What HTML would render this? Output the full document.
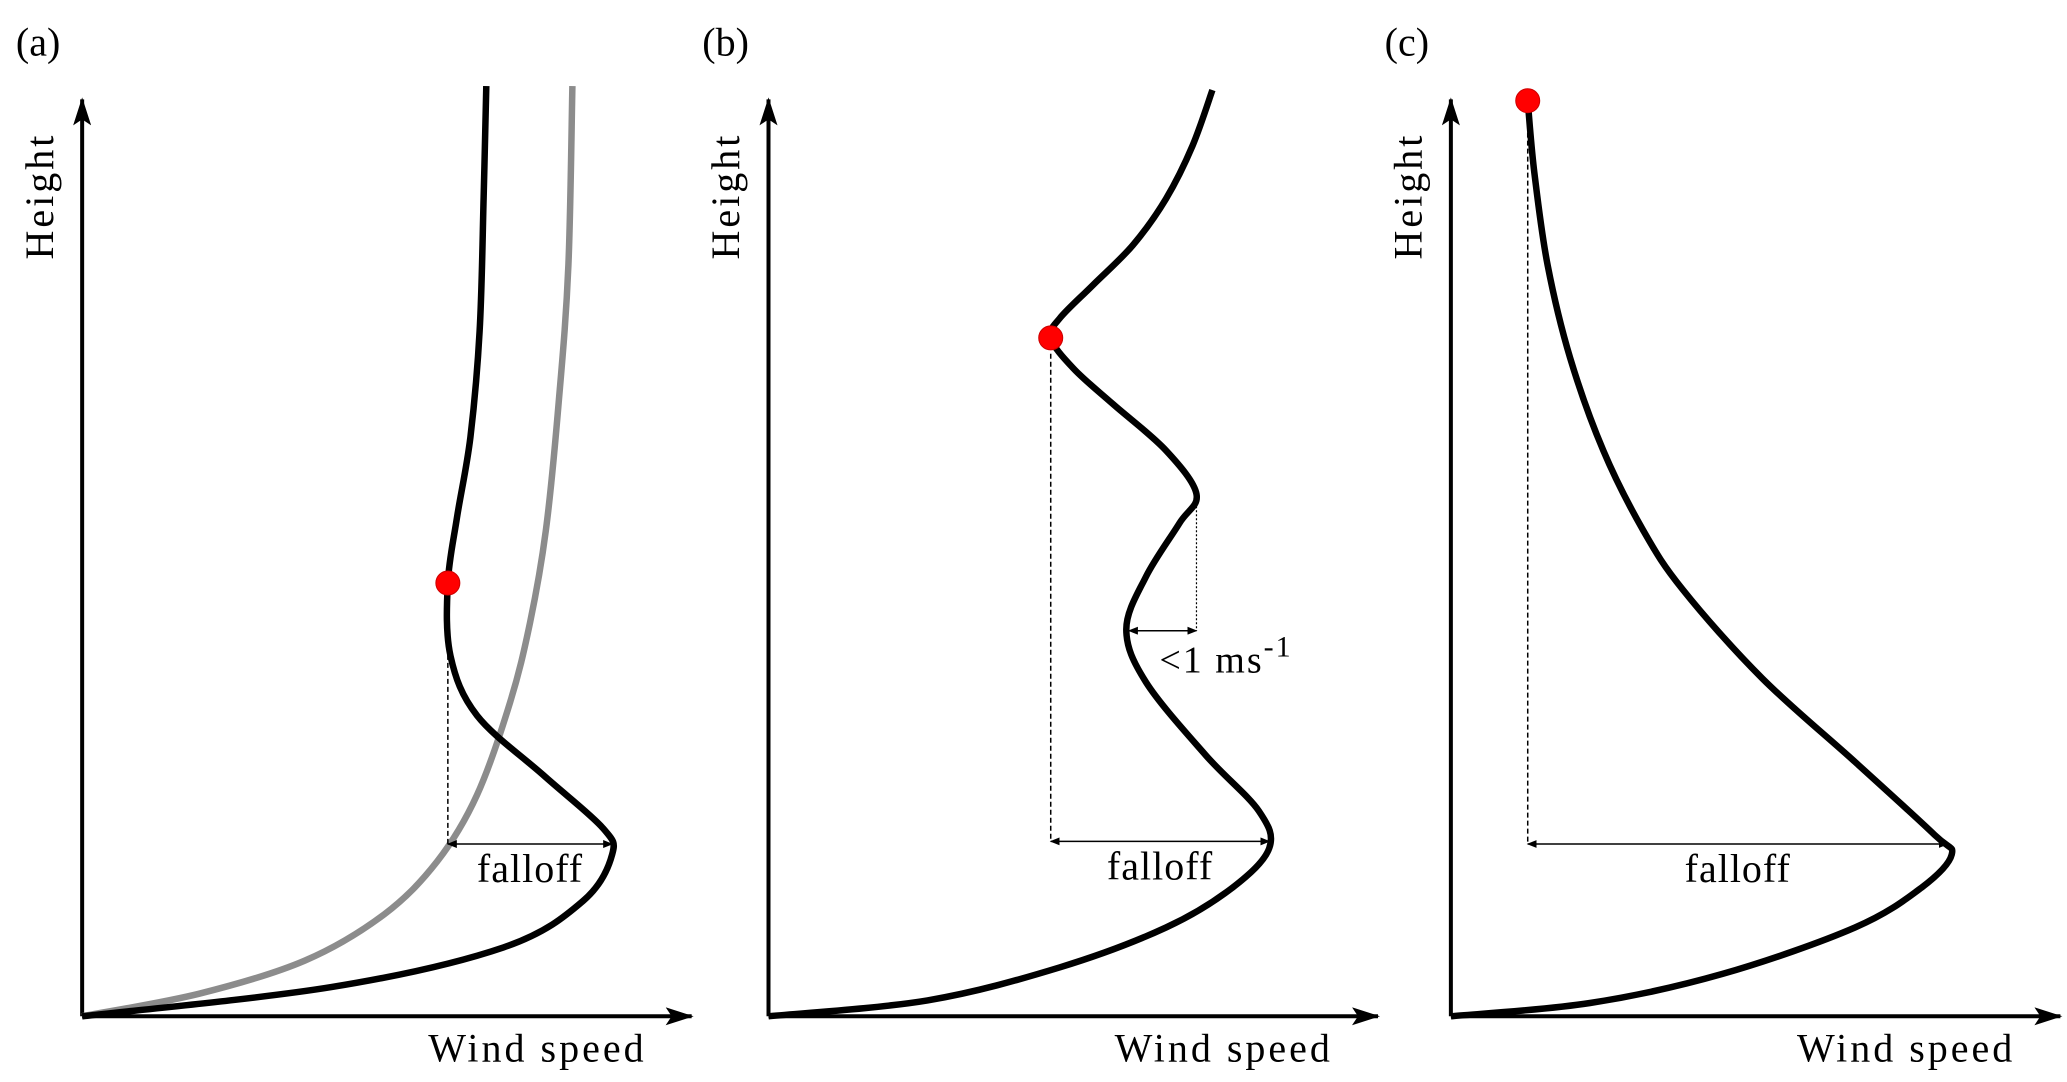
<!DOCTYPE html>
<html><head><meta charset="utf-8"><style>
html,body{margin:0;padding:0;background:#fff;}
svg{display:block;font-family:"Liberation Serif",serif;}
</style></head><body>
<svg id="fig" width="2067" height="1082" viewBox="0 0 2067 1082" xmlns="http://www.w3.org/2000/svg">
<defs>
<marker id="ah" markerWidth="10" markerHeight="8" refX="9" refY="4" orient="auto" markerUnits="userSpaceOnUse"><path d="M0,0 L10,4 L0,8 Z" fill="#000"/></marker>
<marker id="ahs" markerWidth="10" markerHeight="8" refX="1" refY="4" orient="auto" markerUnits="userSpaceOnUse"><path d="M10,0 L0,4 L10,8 Z" fill="#000"/></marker>
<marker id="ahBig" markerWidth="28" markerHeight="18" refX="26" refY="9" orient="auto" markerUnits="userSpaceOnUse"><path d="M0,0 L28,9 L0,18 L6,9 Z" fill="#000"/></marker>
</defs>
</svg>
<script>
// Panel data (wind speed units, height units)
const originsX = [62, 580, 1095];
const panelLabels = ["(a)", "(b)", "(c)"];
const windA = [0, 188, 318, 378, 400, 393, 348, 298, 278, 276, 283, 293, 300, 303, 305];
const heightA = [0, 22, 52, 87, 122, 142, 182, 227, 272, 327, 377, 437, 517, 617, 702];
const windGray = [0, 88, 168, 228, 268, 298, 323, 338, 350, 360, 367, 370];
const heightGray = [0, 17, 42, 77, 117, 167, 237, 297, 367, 467, 567, 702];
const windB = [0, 120, 220, 300, 350, 378, 370, 330, 285, 270, 285, 310, 323, 300, 260, 230, 213, 220, 245, 275, 300, 320, 335];
const heightB = [0, 12, 37, 67, 97, 127, 155, 197, 252, 292, 332, 372, 394, 427, 462, 489, 512, 527, 552, 582, 617, 657, 699];
const windC = [0, 105, 205, 305, 355, 378, 365, 305, 235, 175, 145, 115, 90, 73, 63, 58];
const heightC = [0, 10, 32, 67, 97, 122, 137, 192, 255, 322, 367, 427, 497, 567, 637, 691];
const dotA = [276, 327], dotB = [213, 512], dotC = [58, 691];
const falloffA = [276, 400, 130], falloffB = [213, 378, 132], falloffC = [58, 375, 130];
const smallDiffB = [272, 323, 291];

const S = 1325/1000;
const svg = document.getElementById('fig');
const NS = "http://www.w3.org/2000/svg";
function px(p, w){ return (originsX[p] + w) * S; }
function py(h){ return (767 - h) * S; }
function mk(tag, attrs){ const e = document.createElementNS(NS, tag); for (const k in attrs) e.setAttribute(k, attrs[k]); svg.appendChild(e); return e; }
function smooth(pts){
  let d = "M" + pts[0][0].toFixed(1) + "," + pts[0][1].toFixed(1);
  for (let i = 0; i < pts.length - 1; i++){
    const p0 = pts[Math.max(i-1,0)], p1 = pts[i], p2 = pts[i+1], p3 = pts[Math.min(i+2,pts.length-1)];
    const c1 = [p1[0]+(p2[0]-p0[0])/6, p1[1]+(p2[1]-p0[1])/6];
    const c2 = [p2[0]-(p3[0]-p1[0])/6, p2[1]-(p3[1]-p1[1])/6];
    d += " C" + c1[0].toFixed(1)+","+c1[1].toFixed(1)+" "+c2[0].toFixed(1)+","+c2[1].toFixed(1)+" "+p2[0].toFixed(1)+","+p2[1].toFixed(1);
  }
  return d;
}
function curve(p, ws, hs, color, name){
  const pts = ws.map((w,i)=>[px(p,w), py(hs[i])]);
  const e = mk('path', {d: smooth(pts), fill:'none', stroke:color, 'stroke-width':6.5, 'stroke-linecap':'butt', 'stroke-linejoin':'round'});
  
  
}
function txt(x, y, s, size, name, extra){
  const e = mk('text', Object.assign({x:x, y:y, 'font-size':size, fill:'#000'}, extra||{}));
  e.textContent = s;
  
  
  return e;
}
const letters = ['a','b','c'];
for (let p = 0; p < 3; p++){
  const L = letters[p];
  const ya = mk('line', {x1:px(p,0), y1:py(0), x2:px(p,0), y2:py(692), stroke:'#000', 'stroke-width':4, 'marker-end':'url(#ahBig)'});
  
  
  const xa = mk('line', {x1:px(p,0), y1:py(0), x2:px(p,460), y2:py(0), stroke:'#000', 'stroke-width':4, 'marker-end':'url(#ahBig)'});
  
  
  txt((originsX[p]-50)*S, 42*S, panelLabels[p], 40, 'panel-label-' + L);
  const hx = (originsX[p]-29)*S, hy = 148*S;
  txt(hx, hy, 'Height', 40, 'y-axis-title-' + L, {transform:'rotate(-90 '+hx+' '+hy+')', 'text-anchor':'middle', 'dominant-baseline':'middle', 'letter-spacing':'3'});
  txt(px(p,426), 801*S, 'Wind speed', 40, 'x-axis-title-' + L, {'text-anchor':'end', 'letter-spacing':'3'});
}
curve(0, windGray, heightGray, '#8c8c8c', 'gray-profile-a');
curve(0, windA, heightA, '#000', 'profile-a');
curve(1, windB, heightB, '#000', 'profile-b');
curve(2, windC, heightC, '#000', 'profile-c');

function falloff(p, f, dotH, name){
  const x1 = px(p,f[0]), x2 = px(p,f[1]), y = py(f[2]);
  const dl = mk('line', {x1:x1, y1:py(dotH-12), x2:x1, y2:y, stroke:'#000', 'stroke-width':1.5, 'stroke-dasharray':'5,3'});
  
  
  const ar = mk('line', {x1:x1, y1:y, x2:x2, y2:y, stroke:'#000', 'stroke-width':1.5, 'marker-start':'url(#ahs)', 'marker-end':'url(#ah)'});
  
  
  txt((x1+x2)/2, y + 38, 'falloff', 40, name + '-label', {'text-anchor':'middle', 'letter-spacing':'1'});
}
falloff(0, falloffA, 327, 'falloff-a');
falloff(1, falloffB, 512, 'falloff-b');
falloff(2, falloffC, 691, 'falloff-c');

// small difference marker in (b)
const sx1 = px(1, smallDiffB[0]), sx2 = px(1, smallDiffB[1]), sy = py(smallDiffB[2]);
const dv = mk('line', {x1:sx2, y1:py(394), x2:sx2, y2:sy, stroke:'#000', 'stroke-width':1.2, 'stroke-dasharray':'2,2'});


const sa = mk('line', {x1:sx1, y1:sy, x2:sx2, y2:sy, stroke:'#000', 'stroke-width':1.5, 'marker-start':'url(#ahs)', 'marker-end':'url(#ah)'});


const st = txt(px(1,295), py(291)+42, '<1 ms', 38, 'small-diff-label', {'letter-spacing':'2'});
const sup = document.createElementNS(NS,'tspan');
sup.setAttribute('dy','-16'); sup.setAttribute('font-size','30'); sup.textContent = '-1';
st.appendChild(sup);

// red dots
[[0,dotA,'red-dot-a'],[1,dotB,'red-dot-b'],[2,dotC,'red-dot-c']].forEach(d=>{
  const c = mk('circle', {cx:px(d[0], d[1][0]), cy:py(d[1][1]), r:12, fill:'#ff0000', stroke:'#c00', 'stroke-width':1});
  
  
});
</script>
</body></html>
